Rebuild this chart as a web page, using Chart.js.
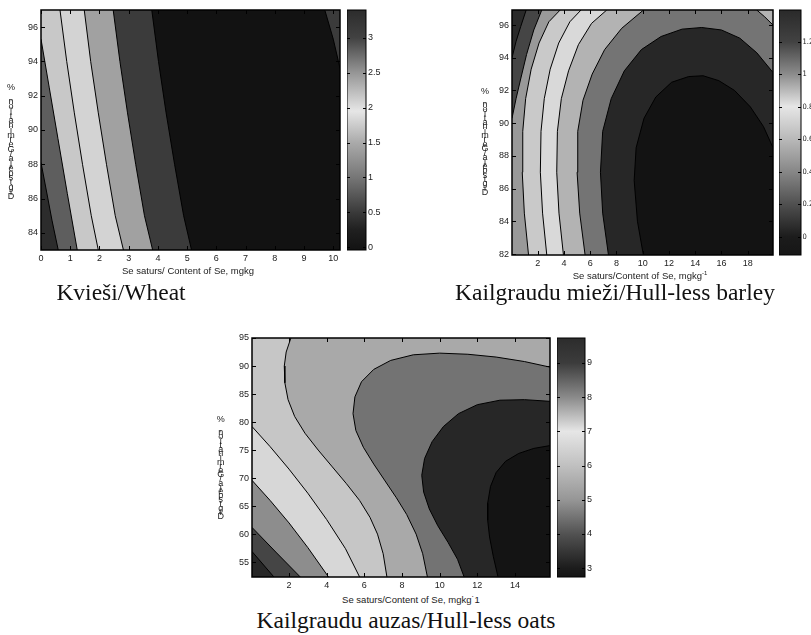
<!DOCTYPE html>
<html><head><meta charset="utf-8">
<script src="https://cdn.jsdelivr.net/npm/chart.js@4.4.1/dist/chart.umd.min.js"></script>
<style>
html,body{margin:0;padding:0;background:#fff;}
#root{position:relative;width:811px;height:635px;overflow:hidden;background:#fff;}
canvas{position:absolute;}
.cap{position:absolute;font-family:"Liberation Serif","Times New Roman",serif;font-size:23.5px;white-space:nowrap;line-height:1;color:#111;transform:translateX(-50%);}
.xt{position:absolute;font-family:"Liberation Sans",Arial,sans-serif;font-size:9.5px;white-space:nowrap;line-height:1;color:#222;transform:translate(-50%,-50%);}
.xt sup{font-size:6px;vertical-align:4px;line-height:0;}
</style></head>
<body><div id="root">
<canvas id="c1" width="345" height="266" style="left:0px;top:0px"></canvas>
<canvas id="cb1" width="40" height="260" style="left:347px;top:0px"></canvas>
<canvas id="c2" width="308" height="270" style="left:470px;top:0px"></canvas>
<canvas id="cb2" width="32" height="265" style="left:779px;top:0px"></canvas>
<canvas id="c3" width="345" height="265" style="left:210px;top:328px"></canvas>
<canvas id="cb3" width="40" height="260" style="left:557px;top:328px"></canvas>
<div class="xt" style="left:188px;top:271px">Se saturs/ Content of Se, mgkg</div>
<div class="xt" style="left:640px;top:276px">Se saturs/Content of Se, mgkg<sup>-1</sup></div>
<div class="xt" style="left:411px;top:600px">Se saturs/Content of Se, mgkg˙1</div>
<div class="cap" style="left:121px;top:281px">Kvieši/Wheat</div>
<div class="cap" style="left:615px;top:281px">Kailgraudu mieži/Hull-less barley</div>
<div class="cap" style="left:406px;top:609px">Kailgraudu auzas/Hull-less oats</div>
</div>
<script>
// ---------------- DATA ----------------
const yLabelText = "Dīgtspēja/Germination, %";

// Wheat
const wheatXRange = [0, 10.23];
const wheatYRange = [83, 97];
const wheatXTicks = [0, 1, 2, 3, 4, 5, 6, 7, 8, 9, 10];
const wheatYTicks = [84, 86, 88, 90, 92, 94, 96];
const wheatB1 = [[0, 88.1], [0.18, 86.5], [0.38, 84.7], [0.59, 83]];
const wheatB2 = [[0, 95.3], [0.28, 92.5], [0.58, 89.5], [0.9, 86.3], [1.24, 83]];
const wheatB3 = [[0.65, 97], [0.88, 94], [1.14, 91], [1.42, 88], [1.72, 85], [1.96, 83]];
const wheatB4 = [[1.48, 97], [1.7, 94], [1.96, 91], [2.24, 88], [2.54, 85], [2.82, 83]];
const wheatB5 = [[2.47, 97], [2.7, 94], [2.96, 91], [3.24, 88], [3.54, 85], [3.82, 83]];
const wheatB6 = [[3.79, 97], [4.02, 94], [4.28, 91], [4.57, 88], [4.88, 85], [5.15, 83]];
const wheatB7 = [[9.71, 97], [10.0, 95.3], [10.23, 93.6]];
const wheatCbRange = [-0.04, 3.4];
const wheatCbTicks = [0, 0.5, 1, 1.5, 2, 2.5, 3];

// Hull-less barley
const barleyXRange = [0.04, 19.93];
const barleyYRange = [81.94, 96.92];
const barleyXTicks = [2, 4, 6, 8, 10, 12, 14, 16, 18];
const barleyYTicks = [82, 84, 86, 88, 90, 92, 94, 96];
const barleyCa = [[10.05, 81.94], [9.6, 84], [9.35, 86.5], [9.5, 88.5], [10.1, 90.3], [11.0, 91.6], [12.2, 92.5], [13.5, 92.85], [14.6, 92.9], [15.8, 92.6], [17.0, 92.0], [18.2, 91.0], [19.2, 89.8], [19.93, 88.5]];
const barleyCb = [[7.39, 81.94], [6.95, 84.5], [6.78, 87], [6.95, 89.5], [7.6, 91.5], [8.6, 93.2], [9.9, 94.5], [11.4, 95.3], [13.0, 95.75], [14.5, 95.85], [16.0, 95.7], [17.4, 95.2], [18.7, 94.3], [19.93, 93.1]];
const barleyCc = [[5.61, 81.94], [5.2, 84.5], [5.0, 87], [5.05, 89.5], [5.45, 91.4], [6.15, 93], [7.1, 94.5], [8.4, 95.8], [10.06, 96.92]];
const barleyCc2 = [[18.69, 96.92], [19.3, 96.5], [19.93, 96.0]];
const barleyCd = [[3.96, 81.94], [3.62, 84.5], [3.45, 87], [3.5, 89.5], [3.8, 91.5], [4.35, 93.2], [5.1, 94.8], [6.1, 96.1], [7.26, 96.92]];
const barleyCe = [[2.69, 81.94], [2.37, 84.5], [2.2, 87], [2.25, 89.5], [2.5, 91.5], [2.95, 93.3], [3.6, 94.9], [4.45, 96.2], [5.3, 96.92]];
const barleyCf = [[1.3, 81.94], [0.98, 84.5], [0.82, 87], [0.86, 89.5], [1.08, 91.5], [1.5, 93.3], [2.1, 94.9], [2.85, 96.2], [3.71, 96.92]];
const barleyCg = [[0.04, 90.3], [0.35, 91.5], [0.7, 92.7], [1.15, 94.2], [1.7, 95.7], [2.31, 96.92]];
const barleyCh = [[0.04, 94.0], [0.35, 95.0], [0.7, 95.9], [1.12, 96.92]];
const barleyCbRange = [-0.113, 1.395];
const barleyCbTicks = [0, 0.2, 0.4, 0.6, 0.8, 1, 1.2];

// Hull-less oats
const oatsXRange = [0.035, 15.86];
const oatsYRange = [52.35, 95];
const oatsXTicks = [2, 4, 6, 8, 10, 12, 14];
const oatsYTicks = [55, 60, 65, 70, 75, 80, 85, 90, 95];
const oatsL1 = [[0.035, 56.9], [1.2, 52.35]];
const oatsL2 = [[0.035, 61.2], [1.3, 56.8], [2.6, 52.35]];
const oatsL3 = [[0.035, 69.6], [1.0, 66.0], [2.0, 62.0], [3.0, 57.6], [4.1, 52.35]];
const oatsL4 = [[0.035, 79.2], [1.0, 75.6], [2.0, 71.6], [3.0, 67.3], [4.0, 62.6], [5.0, 57.4], [5.75, 52.35]];
const oatsC1 = [[2.1, 95], [1.85, 92.5], [1.75, 90], [1.78, 87], [1.95, 84], [2.3, 81], [2.85, 78], [3.55, 75], [4.3, 72], [5.05, 69], [5.75, 66], [6.3, 63], [6.7, 60], [7.0, 56.5], [7.2, 52.35]];
const oatsC2 = [[15.86, 89.8], [14.5, 90.8], [13.0, 91.6], [11.5, 92.1], [10.0, 92.3], [8.6, 92.0], [7.4, 91.0], [6.5, 89.4], [5.85, 87.2], [5.5, 84.5], [5.4, 81.5], [5.55, 78.5], [5.95, 75.5], [6.5, 72.5], [7.1, 69.5], [7.7, 66.5], [8.25, 63.5], [8.75, 60], [9.1, 56.5], [9.35, 52.35]];
const oatsC3 = [[15.86, 83.7], [14.5, 84.0], [13.2, 83.9], [12.0, 83.1], [11.0, 81.5], [10.2, 79.2], [9.6, 76.5], [9.2, 73.5], [9.05, 70.5], [9.15, 67.5], [9.45, 64.5], [9.9, 61.5], [10.45, 58.5], [10.95, 55.5], [11.3, 52.35]];
const oatsC4 = [[15.86, 75.8], [15.0, 75.3], [14.2, 74.4], [13.5, 73.0], [13.0, 71.0], [12.7, 68.5], [12.55, 65.5], [12.55, 62.5], [12.65, 59.5], [12.85, 56], [13.1, 52.35]];
const oatsCbRange = [2.74, 9.73];
const oatsCbTicks = [3, 4, 5, 6, 7, 8, 9];

// ---------------- STYLES ----------------
const FONT = '"Liberation Sans", Arial, sans-serif';
const NARROW = '"Liberation Sans Narrow", "DejaVu Sans Condensed", Arial, sans-serif';
// colormap stops (value on the colour scale, grey level)
const wheatCmap = [[-0.04, 18], [0.0, 20], [0.25, 32], [0.5, 58], [1.0, 118], [1.5, 170], [1.95, 230], [2.5, 150], [3.0, 66], [3.4, 44]];
const barleyCmap = [[-0.113, 22], [0.0, 28], [0.2, 80], [0.4, 135], [0.6, 185], [0.8, 230], [1.0, 140], [1.2, 66], [1.395, 42]];
const oatsCmap = [[2.74, 20], [3.0, 28], [4.0, 82], [5.0, 150], [6.0, 192], [7.0, 230], [8.0, 138], [9.0, 60], [9.73, 44]];
const grey = g => `rgb(${g},${g},${g})`;

// ---------------- HELPERS ----------------
const P = a => a.map(([x, y]) => ({x, y}));
function shapePts(poly, xEnd) {
  let k = 0;
  poly.forEach((p, i) => { if (p[0] < poly[k][0]) k = i; });
  const r = poly.slice(k).concat(poly.slice(0, k));
  return P(r.concat([r[0], [xEnd, r[0][1]]]));
}

const framePlugin = {
  id: 'frame',
  afterDatasetsDraw(chart, args, o) {
    const {ctx, chartArea: a} = chart;
    const L = o.tick || 4;
    ctx.save();
    ctx.strokeStyle = '#000';
    ctx.lineWidth = 1;
    ctx.beginPath();
    const xs = chart.scales.x, ys = chart.scales.y;
    if (o.xTicks) xs.ticks.forEach(t => {
      const p = Math.round(xs.getPixelForValue(t.value)) + 0.5;
      ctx.moveTo(p, a.bottom); ctx.lineTo(p, a.bottom - L);
      ctx.moveTo(p, a.top); ctx.lineTo(p, a.top + L);
    });
    ys.ticks.forEach(t => {
      const p = Math.round(ys.getPixelForValue(t.value)) + 0.5;
      ctx.moveTo(a.left, p); ctx.lineTo(a.left + L, p);
      ctx.moveTo(a.right, p); ctx.lineTo(a.right - L, p);
    });
    ctx.stroke();
    ctx.lineWidth = o.box || 1.5;
    ctx.strokeRect(a.left, a.top, a.width, a.height);
    if (o.ylabel) {
      const {text, x, yTop, yBottom} = o.ylabel;
      const chars = Array.from(text);
      const step = (yBottom - yTop) / (chars.length - 1);
      ctx.fillStyle = '#222';
      ctx.font = '9px ' + FONT;
      ctx.textAlign = 'center';
      ctx.textBaseline = 'middle';
      chars.forEach((c, i) => ctx.fillText(c, x, yBottom - i * step));
    }
    ctx.restore();
  }
};

function tickOpts(extra) {
  return Object.assign({autoSkip: false, maxRotation: 0, minRotation: 0, padding: 3, color: '#222',
    font: {family: FONT, size: 9}, callback: v => String(v)}, extra || {});
}

function contourChart(id, c) {
  const ds = [];
  c.fills.forEach((f, k) => ds.push({
    data: shapePts(f[0], c.xr[1]), backgroundColor: f[1], borderColor: 'rgba(0,0,0,0)',
    borderWidth: 0, fill: 'shape', pointRadius: 0, tension: 0, order: 100 - k
  }));
  c.lines.forEach(l => ds.push({
    data: P(l), borderColor: '#000', borderWidth: 1, fill: false, pointRadius: 0, tension: 0, order: 0
  }));
  return new Chart(document.getElementById(id), {
    type: 'line',
    data: {datasets: ds},
    options: {
      responsive: false, animation: false, devicePixelRatio: 1,
      layout: {padding: c.pad, autoPadding: false},
      plugins: {legend: {display: false}, tooltip: {enabled: false},
        frame: {xTicks: true, tick: 4, box: 1.5, ylabel: c.ylabel}},
      scales: {
        x: {type: 'linear', min: c.xr[0], max: c.xr[1],
          afterBuildTicks: s => { s.ticks = c.xt.map(v => ({value: v})); },
          afterFit: s => { s.height = c.xh; },
          grid: {display: false, drawTicks: false}, border: {display: false}, ticks: tickOpts()},
        y: {type: 'linear', min: c.yr[0], max: c.yr[1],
          afterBuildTicks: s => { s.ticks = c.yt.map(v => ({value: v})); },
          afterFit: s => { s.width = c.yw; },
          grid: {display: false, drawTicks: false}, border: {display: false}, ticks: tickOpts()}
      }
    },
    plugins: [framePlugin]
  });
}

function colorbar(id, c) {
  const gradient = (sc) => {
    const ch = sc.chart, ys = ch.scales.y;
    if (!ch.chartArea || !ys) return grey(128);
    const y0 = ys.getPixelForValue(c.range[0]), y1 = ys.getPixelForValue(c.range[1]);
    const g = ch.ctx.createLinearGradient(0, y0, 0, y1);
    const span = c.range[1] - c.range[0];
    c.cmap.forEach(([v, gr]) => g.addColorStop(Math.min(1, Math.max(0, (v - c.range[0]) / span)), grey(gr)));
    return g;
  };
  return new Chart(document.getElementById(id), {
    type: 'bar',
    data: {labels: [''], datasets: [{
      data: [[c.range[0], c.range[1]]], backgroundColor: gradient, borderWidth: 0,
      barPercentage: 1, categoryPercentage: 1
    }]},
    options: {
      responsive: false, animation: false, devicePixelRatio: 1,
      layout: {padding: c.pad, autoPadding: false},
      plugins: {legend: {display: false}, tooltip: {enabled: false},
        frame: {xTicks: false, tick: 3, box: 1}},
      scales: {
        x: {display: false},
        y: {type: 'linear', position: 'right', min: c.range[0], max: c.range[1],
          afterBuildTicks: s => { s.ticks = c.ticks.map(v => ({value: v})); },
          afterFit: s => { s.width = c.yw; },
          grid: {display: false, drawTicks: false}, border: {display: false},
          ticks: tickOpts({padding: c.tp || 2, font: {family: c.ff || FONT, size: c.fs || 9}})}
      }
    },
    plugins: [framePlugin]
  });
}

// ---------------- WHEAT ----------------
(() => {
  const [X0, X1] = wheatXRange, [Y0, Y1] = wheatYRange;
  contourChart('c1', {
    xr: wheatXRange, yr: wheatYRange, xt: wheatXTicks, yt: wheatYTicks,
    pad: {left: 0, top: 10, right: 5, bottom: 0}, yw: 41, xh: 16,
    ylabel: {text: yLabelText, x: 11, yTop: 87.5, yBottom: 197},
    fills: [
      [[[X0, Y0], [X0, Y1], [X1, Y1], [X1, Y0]], '#121212'],
      [[[X0, Y0], [X0, Y1], ...wheatB6], '#3b3b3b'],
      [[[X0, Y0], [X0, Y1], ...wheatB5], '#a1a1a1'],
      [[[X0, Y0], [X0, Y1], ...wheatB4], '#d3d3d3'],
      [[[X0, Y0], [X0, Y1], ...wheatB3], '#c8c8c8'],
      [[[X0, Y0], ...wheatB2], '#5e5e5e'],
      [[[X0, Y0], ...wheatB1], '#2c2c2c'],
      [[[X1, Y1], ...wheatB7], '#3b3b3b']
    ],
    lines: [wheatB1, wheatB2, wheatB3, wheatB4, wheatB5, wheatB6, wheatB7]
  });
  colorbar('cb1', {range: wheatCbRange, ticks: wheatCbTicks, cmap: wheatCmap,
    pad: {left: 0, top: 10, right: 0, bottom: 10}, yw: 21});
})();

// ---------------- BARLEY ----------------
(() => {
  const [X0, X1] = barleyXRange, [Y0, Y1] = barleyYRange;
  contourChart('c2', {
    xr: barleyXRange, yr: barleyYRange, xt: barleyXTicks, yt: barleyYTicks,
    pad: {left: 0, top: 10, right: 5, bottom: 0}, yw: 42, xh: 15,
    ylabel: {text: yLabelText, x: 15, yTop: 91.7, yBottom: 192.7},
    fills: [
      [[[X0, Y0], [X0, Y1], [X1, Y1], [X1, Y0]], '#999999'],
      [[[X0, Y1], ...barleyCg], '#454545'],
      [[[X0, Y1], ...barleyCh], '#2a2a2a'],
      [[...barleyCf, [X1, Y1], [X1, Y0]], '#c9c9c9'],
      [[...barleyCe, [X1, Y1], [X1, Y0]], '#d9d9d9'],
      [[...barleyCd, [X1, Y1], [X1, Y0]], '#b3b3b3'],
      [[...barleyCc, [X1, Y1], [X1, Y0]], '#747474'],
      [[...barleyCc2, [X1, Y1]], '#b3b3b3'],
      [[...barleyCb, [X1, Y0]], '#272727'],
      [[...barleyCa, [X1, Y0]], '#131313']
    ],
    lines: [barleyCa, barleyCb, barleyCc, barleyCc2, barleyCd, barleyCe, barleyCf, barleyCg, barleyCh]
  });
  colorbar('cb2', {range: barleyCbRange, ticks: barleyCbTicks, cmap: barleyCmap,
    pad: {left: 0, top: 10, right: 0, bottom: 10}, yw: 10, fs: 7.5, ff: NARROW, tp: 1.5});
})();

// ---------------- OATS ----------------
(() => {
  const [X0, X1] = oatsXRange, [Y0, Y1] = oatsYRange;
  contourChart('c3', {
    xr: oatsXRange, yr: oatsYRange, xt: oatsXTicks, yt: oatsYTicks,
    pad: {left: 0, top: 10, right: 5, bottom: 0}, yw: 42, xh: 16,
    ylabel: {text: yLabelText, x: 10.7, yTop: 92, yBottom: 188.7},
    fills: [
      [[[X0, Y0], [X0, Y1], [X1, Y1], [X1, Y0]], '#c6c6c6'],
      [[[X0, Y0], ...oatsL4], '#d7d7d7'],
      [[[X0, Y0], ...oatsL3], '#8d8d8d'],
      [[[X0, Y0], ...oatsL2], '#454545'],
      [[[X0, Y0], ...oatsL1], '#272727'],
      [[...oatsC1, [X1, Y0], [X1, Y1]], '#a9a9a9'],
      [[...oatsC2, [X1, Y0]], '#737373'],
      [[...oatsC3, [X1, Y0]], '#272727'],
      [[...oatsC4, [X1, Y0]], '#141414']
    ],
    lines: [oatsL1, oatsL2, oatsL3, oatsL4, oatsC1, oatsC2, oatsC3, oatsC4]
  });
  colorbar('cb3', {range: oatsCbRange, ticks: oatsCbTicks, cmap: oatsCmap,
    pad: {left: 0, top: 10, right: 0, bottom: 11}, yw: 12});
})();
</script>
</body></html>
